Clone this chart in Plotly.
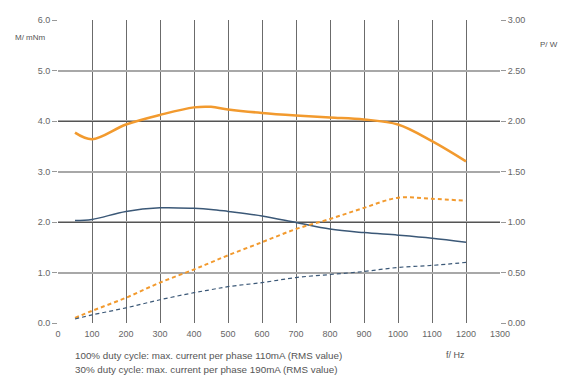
import plotly.graph_objects as go

freq = [50, 100, 200, 300, 400, 450, 500, 600, 700, 800, 900, 1000, 1100, 1200]
torque_100 = [3.77, 3.64, 3.93, 4.12, 4.27, 4.28, 4.23, 4.16, 4.11, 4.07, 4.03, 3.93, 3.60, 3.20]
torque_30 = [2.03, 2.05, 2.21, 2.28, 2.27, 2.25, 2.21, 2.12, 1.99, 1.86, 1.79, 1.74, 1.68, 1.60]
power_100 = [0.05, 0.12, 0.25, 0.40, 0.53, 0.60, 0.67, 0.80, 0.93, 1.03, 1.14, 1.24, 1.23, 1.21]
power_30 = [0.04, 0.08, 0.15, 0.23, 0.30, 0.33, 0.36, 0.40, 0.45, 0.48, 0.51, 0.55, 0.57, 0.60]

x_ticks = list(range(0, 1301, 100))
left_ticks = [0, 1, 2, 3, 4, 5, 6]
right_ticks = [0, 0.5, 1.0, 1.5, 2.0, 2.5, 3.0]

orange = "#F29A2E"
blue = "#3B5877"
FONT = "Liberation Sans, Arial"
tickfont = dict(family=FONT, size=9, color="#666666")

# page offset (browser body margin)
OFF = 8
W, H = 581 - OFF, 392 - OFF
l, r, t, b = 50, 81, 7, 69

fig = go.Figure()
fig.add_trace(go.Scatter(x=freq, y=torque_100, mode="lines", line=dict(color=orange, width=2.5, shape="spline"), yaxis="y"))
fig.add_trace(go.Scatter(x=freq, y=torque_30, mode="lines", line=dict(color=blue, width=1.5, shape="spline"), yaxis="y"))
fig.add_trace(go.Scatter(x=freq, y=power_100, mode="lines", line=dict(color=orange, width=2, dash="4px,3px", shape="spline"), yaxis="y2"))
fig.add_trace(go.Scatter(x=freq, y=power_30, mode="lines", line=dict(color=blue, width=1.2, dash="4px,3px", shape="spline"), yaxis="y2"))
fig.add_trace(go.Scatter(x=[0], y=[0], mode="markers", marker=dict(opacity=0), yaxis="y3", hoverinfo="skip"))

fig.update_layout(
    width=W, height=H,
    margin=dict(l=l, r=r, t=t, b=b, pad=0),
    paper_bgcolor="white", plot_bgcolor="white",
    showlegend=False,
    xaxis=dict(range=[0, 1300], tickvals=x_ticks, ticktext=[str(v) for v in x_ticks],
               showgrid=True, gridcolor="#6b6b6b", gridwidth=1.3, zeroline=False,
               showline=False, ticks="", tickfont=tickfont, ticklabelstandoff=4),
    yaxis=dict(range=[0, 6], tickvals=left_ticks, ticktext=[f"{v:.1f}" for v in left_ticks],
               showgrid=True, gridcolor="#a8a8a8", gridwidth=1.5, zeroline=False,
               ticks="outside", ticklen=5, tickcolor="#999999", tickfont=tickfont),
    yaxis2=dict(range=[0, 3], tickvals=right_ticks, ticktext=[f"{v:.2f}" for v in right_ticks],
                overlaying="y", side="right", showgrid=False, zeroline=False,
                ticks="outside", ticklen=5, tickcolor="#999999", tickfont=tickfont),
    yaxis3=dict(range=[0, 6], dtick=2, overlaying="y", showgrid=True, gridcolor="#555555",
                gridwidth=1.3, showticklabels=False, zeroline=False, ticks=""),
)

texts = [
    (48, 33, "right", "M/ mNm", 8),
    (538, 40, "left", "P/ W", 8),
    (444, 356, "left", "f/ Hz", 9),
    (73, 356, "left", "100% duty cycle: max. current per phase 110mA (RMS value)", 9.8),
    (73, 370, "left", "30% duty cycle: max. current per phase 190mA (RMS value)", 9.8),
]
pw, ph = W - l - r, H - t - b
for px, py, anchor, txt, size in texts:
    fig.add_annotation(x=(px - OFF - l) / pw, y=1 - (py - OFF - t) / ph, xref="paper", yref="paper",
                       xanchor=anchor, yanchor="middle", text=txt, showarrow=False,
                       font=dict(family=FONT, size=size, color="#555555"))

fig.write_html("out.html")
